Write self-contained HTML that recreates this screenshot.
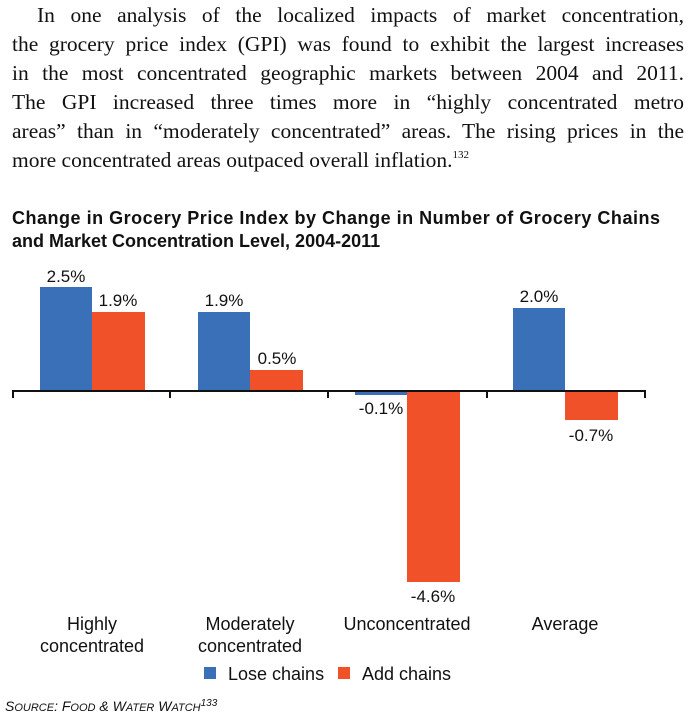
<!DOCTYPE html>
<html><head><meta charset="utf-8"><style>
html,body{margin:0;padding:0;background:#fff;}
body{width:700px;height:728px;position:relative;overflow:hidden;}
.p{position:absolute;left:12px;top:0;width:672px;font-family:"Liberation Serif",serif;font-size:21.5px;line-height:29px;color:#111;text-align:justify;}
.p span{display:block;text-align:justify;text-align-last:justify;white-space:nowrap;height:29px;}
.p sup{font-size:11px;line-height:0;vertical-align:9px;}
svg{position:absolute;left:0;top:0;}
</style></head><body>
<div class="p" style="top:1px">
<span style="padding-left:25px">In one analysis of the localized impacts of market concentration,</span>
<span>the grocery price index (GPI) was found to exhibit the largest increases</span>
<span>in the most concentrated geographic markets between 2004 and 2011.</span>
<span>The GPI increased three times more in “highly concentrated metro</span>
<span>areas” than in “moderately concentrated” areas. The rising prices in the</span>
<span style="text-align-last:left">more concentrated areas outpaced overall inflation.<sup>132</sup></span>
</div>
<svg width="700" height="728" font-family="Liberation Sans, sans-serif">
<text x="12" y="224" font-size="18" font-weight="bold" fill="#111" textLength="648">Change in Grocery Price Index by Change in Number of Grocery Chains</text>
<text x="12" y="247" font-size="18" font-weight="bold" fill="#111">and Market Concentration Level, 2004-2011</text>
<g fill="#3a70b8">
<rect x="40" y="287" width="52" height="104"/>
<rect x="198" y="312" width="52" height="79"/>
<rect x="355" y="391" width="52" height="4"/>
<rect x="513" y="308" width="52" height="83"/>
</g>
<g fill="#f05129">
<rect x="92" y="312" width="53" height="79"/>
<rect x="250" y="370" width="53" height="21"/>
<rect x="407" y="391" width="53" height="191"/>
<rect x="565" y="391" width="53" height="29"/>
</g>
<g stroke="#111" stroke-width="2" fill="none">
<line x1="13" y1="391" x2="645" y2="391"/>
<line x1="13" y1="390" x2="13" y2="398"/>
<line x1="170" y1="390" x2="170" y2="398"/>
<line x1="328" y1="390" x2="328" y2="398"/>
<line x1="487" y1="390" x2="487" y2="398"/>
<line x1="645" y1="390" x2="645" y2="398"/>
</g>
<g font-size="17" fill="#111" text-anchor="middle">
<text x="66" y="282">2.5%</text>
<text x="118" y="306">1.9%</text>
<text x="224" y="306">1.9%</text>
<text x="277" y="364">0.5%</text>
<text x="381" y="414">-0.1%</text>
<text x="433" y="602">-4.6%</text>
<text x="539" y="302">2.0%</text>
<text x="591" y="441">-0.7%</text>
</g>
<g font-size="18" fill="#111" text-anchor="middle">
<text x="92" y="630">Highly</text>
<text x="92" y="652">concentrated</text>
<text x="250" y="630">Moderately</text>
<text x="250" y="652">concentrated</text>
<text x="407" y="630">Unconcentrated</text>
<text x="565" y="630">Average</text>
</g>
<rect x="204" y="667" width="12" height="12" fill="#3a70b8"/>
<text x="228" y="680" font-size="18" fill="#111">Lose chains</text>
<rect x="338" y="667" width="12" height="12" fill="#f05129"/>
<text x="362" y="680" font-size="18" fill="#111">Add chains</text>
<text x="5" y="711" font-size="14" font-style="italic" fill="#111">S<tspan font-size="11">OURCE</tspan>: F<tspan font-size="11">OOD</tspan> &amp; W<tspan font-size="11">ATER</tspan> W<tspan font-size="11">ATCH</tspan><tspan font-size="10" dy="-5">133</tspan></text>
</svg>
</body></html>
